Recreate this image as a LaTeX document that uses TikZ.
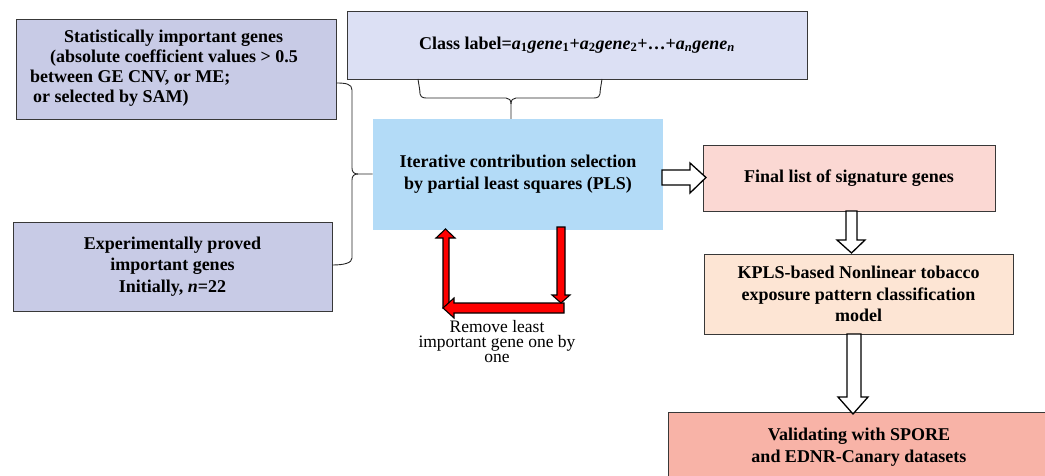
\documentclass[tikz,border=0pt]{standalone}
\usepackage{fontspec}
\setmainfont{Liberation Serif}
\begin{document}
\begin{tikzpicture}[x=1pt,y=-1pt,
  box/.style={draw=black!78, line width=0.9pt, inner sep=0pt, align=center,
    font=\fontsize{18}{21}\selectfont\bfseries},
  brace/.style={draw=black!85, line width=0.9pt},
  wblock/.style={draw=black, line width=1.3pt, fill=white, line join=miter},
  rblock/.style={draw=black, line width=1.1pt, fill=red, line join=miter}]
\useasboundingbox (0,0) rectangle (1045,476);
\definecolor{c1}{HTML}{C8CBE6}
\definecolor{c2}{HTML}{DCE0F4}
\definecolor{cpls}{HTML}{B3DBF7}
\definecolor{cfin}{HTML}{FBD8D3}
\definecolor{ckpls}{HTML}{FDE5D4}
\definecolor{cval}{HTML}{F8B3A7}

% boxes
\node[box, fill=c1, minimum width=320pt, minimum height=100pt] (stat) at (176,69) {};
\node[font=\fontsize{18}{20}\selectfont\bfseries, align=left, inner sep=0pt, anchor=west] (stattext) at (30,68)
 {\hspace*{34pt}Statistically important genes\\
  \hspace*{20pt}(absolute coefficient values > 0.5\\
  between GE CNV, or ME;\\
  \hspace*{3pt}or selected by SAM)};
\node[box, fill=c2, minimum width=460pt, minimum height=68pt] (cls) at (577,45)
 {Class label=\textit{a}\textsubscript{1}\textit{gene}\textsubscript{1}+\textit{a}\textsubscript{2}\textit{gene}\textsubscript{2}+…+\textit{a}\textsubscript{\textit{n}}\textit{gene}\textsubscript{\textit{n}}};
\node[box, fill=c1, minimum width=319pt, minimum height=89pt, font=\fontsize{18}{21.5}\selectfont\bfseries] (exp) at (172.5,266.5)
 {Experimentally proved\\important genes\\Initially, \textit{n}=22};
\node[box, draw=none, fill=cpls, minimum width=290pt, minimum height=111pt, font=\fontsize{18}{22}\selectfont\bfseries] (pls) at (518,174.5)
 {Iterative contribution selection\\by partial least squares (PLS)};
\node[box, fill=cfin, minimum width=292pt, minimum height=66pt] (fin) at (849,178)
 {Final list of signature genes};
\node[box, fill=ckpls, minimum width=309pt, minimum height=80pt, font=\fontsize{18}{21.5}\selectfont\bfseries] (kpls) at (858.5,294)
 {KPLS-based Nonlinear tobacco\\exposure pattern classification\\model};
\node[box, fill=cval, minimum width=382pt, minimum height=70pt, font=\fontsize{18}{22}\selectfont\bfseries] (val) at (859,447)
 {Validating with SPORE\\and EDNR-Canary datasets};

% left brace
\draw[brace] (stat.east |- 0,83) .. controls (346,83) and (352,84) .. (352,90)
  -- (352,168) .. controls (352,172) and (354,174) .. (358,174) -- (pls.west |- 0,174);
\draw[brace] (358,174) .. controls (354,174) and (352,176) .. (352,180)
  -- (352,258) .. controls (352,263) and (344,265) .. (exp.east |- 0,265);
% top brace
\draw[brace] (418,79) .. controls (419,86) and (420,90) .. (420,94)
  .. controls (420,96) and (422,98) .. (426,98) -- (506,98)
  .. controls (509,98) and (511,100) .. (511,104) -- (511,119);
\draw[brace] (602,79) .. controls (601,86) and (600,90) .. (600,94)
  .. controls (600,96) and (598,98) .. (594,98) -- (516,98)
  .. controls (513,98) and (511,100) .. (511,104);

% white block arrows
\draw[wblock] (662,170) -- (690,170) -- (690,163) -- (706,177.5) -- (690,193) -- (690,185) -- (662,185) -- cycle;
\draw[wblock] (846,211) -- (857,211) -- (857,240) -- (865,240) -- (851.5,253) -- (837,240) -- (846,240) -- cycle;
\draw[wblock] (847,334) -- (861,334) -- (861,397) -- (868,397) -- (853,414) -- (838,397) -- (847,397) -- cycle;

% red block arrows
\draw[rblock] (443,308) -- (443,238) -- (436,238) -- (445.5,229) -- (455,238) -- (449,238) -- (449,308) -- cycle;
\draw[rblock] (564,303) -- (564,313) -- (454,313) -- (454,318) -- (443,308) -- (454,298) -- (454,303) -- cycle;
\draw[rblock] (557,227) -- (565,227) -- (565,295) -- (570,295) -- (561,303) -- (552,295) -- (557,295) -- cycle;

\node[font=\fontsize{17.5}{15}\selectfont, align=center, inner sep=0pt] (rm) at (497,342)
 {Remove least\\important gene one by\\one};
\end{tikzpicture}
\end{document}
